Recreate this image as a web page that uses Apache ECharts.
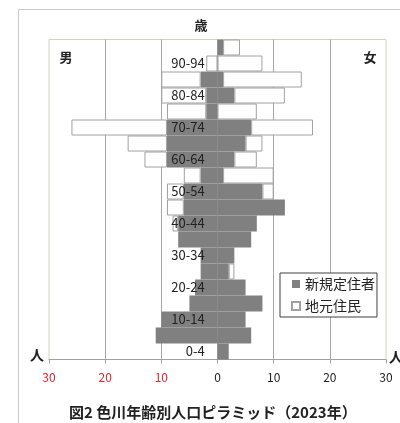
<!DOCTYPE html>
<html>
<head>
<meta charset="utf-8">
<script src="https://cdn.jsdelivr.net/npm/echarts@6/dist/echarts.min.js"></script>
<style>
  html, body { margin: 0; padding: 0; background: #fff; }
  #chart { width: 400px; height: 423px; }
</style>
</head>
<body>
<div id="chart"></div>
<script>
// Age groups (bottom to top)
const ageGroups = ['0-4','5-9','10-14','15-19','20-24','25-29','30-34','35-39','40-44','45-49',
                   '50-54','55-59','60-64','65-69','70-74','75-79','80-84','85-89','90-94','95-99'];
// 男 (left side)
const maleNew     = [0, 11, 10, 5, 4, 3, 3, 7, 7, 6, 6, 3, 9, 9, 9, 2, 2, 3, 0, 0];
const maleLocal   = [0, 0, 0, 0, 0, 0, 0, 0, 1, 3, 3, 3, 4, 7, 17, 7, 8, 7, 2, 0];
// 女 (right side)
const femaleNew   = [2, 6, 5, 8, 5, 2, 3, 6, 7, 12, 8, 1, 3, 5, 6, 0, 3, 1, 0, 1];
const femaleLocal = [0, 0, 0, 0, 0, 1, 0, 0, 0, 0, 2, 9, 4, 3, 11, 7, 9, 14, 8, 3];
// Axis tick values
const xTicks = [-30, -20, -10, 0, 10, 20, 30];

const seriesNames = ['新規定住者', '地元住民'];
const titleText = '図2 色川年齢別人口ピラミッド（2023年）';

const FONT = '"Noto Sans CJK JP", "Noto Sans", sans-serif';
const nz = v => (v === 0 ? null : v);

const chart = echarts.init(document.getElementById('chart'), null, { renderer: 'canvas' });

const grayStyle = { color: '#808080' };
const whiteStyle = { color: '#ffffff', borderColor: '#a0a0a0', borderWidth: 1 };
const GRID_LEFT = 49;

const option = {
  animation: false,
  textStyle: { fontFamily: FONT },
  grid: {
    left: GRID_LEFT, right: 14, top: 39.5, bottom: 63.5,
    show: true, borderColor: '#d6d1bd', borderWidth: 1, backgroundColor: 'transparent'
  },
  title: {
    text: titleText,
    left: 64, top: 400,
    textStyle: { fontFamily: FONT, fontSize: 15, fontWeight: 'bold', color: '#222' }
  },
  legend: {
    orient: 'vertical',
    left: 280, top: 273,
    data: seriesNames,
    icon: 'rect',
    itemWidth: 8, itemHeight: 8,
    itemGap: 8,
    padding: [4, 2, 4, 11],
    backgroundColor: '#fff',
    borderColor: '#404040', borderWidth: 1,
    textStyle: { fontFamily: FONT, fontSize: 14, color: '#222', lineHeight: 14 }
  },
  xAxis: {
    type: 'value',
    min: xTicks[0], max: xTicks[xTicks.length - 1], interval: 10,
    axisLine: { show: true, onZero: false, lineStyle: { color: '#a0a0a0', width: 1 } },
    axisTick: { show: true, inside: false, length: 4, lineStyle: { color: '#a0a0a0' } },
    splitLine: { show: true, showMinLine: false, showMaxLine: false, lineStyle: { color: '#a6a6a6', width: 1 } },
    axisLabel: {
      margin: 12,
      fontFamily: FONT, fontSize: 12,
      formatter: v => String(Math.abs(v)),
      color: v => (v < 0 ? '#e0262a' : '#222')
    }
  },
  yAxis: {
    type: 'category',
    data: ageGroups,
    z: 10,
    offset: 0,
    axisLine: { show: false, onZero: false },
    axisTick: { show: false },
    splitLine: { show: false },
    axisLabel: {
      interval: 1,
      margin: 13,
      fontFamily: FONT, fontSize: 13, color: '#222'
    }
  },
  series: [
    { name: seriesNames[0], type: 'bar', stack: 'all', barCategoryGap: 0, itemStyle: grayStyle,
      data: maleNew.map(v => nz(-v)) },
    { name: seriesNames[0], type: 'bar', stack: 'all', barCategoryGap: 0, itemStyle: grayStyle,
      data: femaleNew.map(nz) },
    { name: seriesNames[1], type: 'bar', stack: 'all', barCategoryGap: 0, itemStyle: whiteStyle,
      data: maleLocal.map(v => nz(-v)) },
    { name: seriesNames[1], type: 'bar', stack: 'all', barCategoryGap: 0, itemStyle: whiteStyle,
      data: femaleLocal.map(nz) }
  ],
  graphic: [
    { type: 'rect', shape: { x: 18.5, y: 9.5, width: 420, height: 430 },
      style: { fill: 'none', stroke: '#c8c8c8', lineWidth: 1 }, z: -10 },
    { type: 'text', x: 201, y: 25, style: { text: '歳', font: 'bold 13px ' + FONT, fill: '#222', align: 'center', verticalAlign: 'middle' } },
    { type: 'text', x: 66, y: 57, style: { text: '男', font: 'bold 13px ' + FONT, fill: '#222', align: 'center', verticalAlign: 'middle' } },
    { type: 'text', x: 370, y: 57, style: { text: '女', font: 'bold 13px ' + FONT, fill: '#222', align: 'center', verticalAlign: 'middle' } },
    { type: 'text', x: 37, y: 355, style: { text: '人', font: 'bold 14px ' + FONT, fill: '#222', align: 'center', verticalAlign: 'middle' } },
    { type: 'text', x: 396, y: 357, style: { text: '人', font: 'bold 14px ' + FONT, fill: '#222', align: 'center', verticalAlign: 'middle' } }
  ]
};

chart.setOption(option);
// Place the category axis (and its labels) at x = 0 of the value axis
const zeroPx = chart.convertToPixel({ xAxisIndex: 0 }, 0);
chart.setOption({ yAxis: { offset: GRID_LEFT - zeroPx } });
</script>
</body>
</html>
